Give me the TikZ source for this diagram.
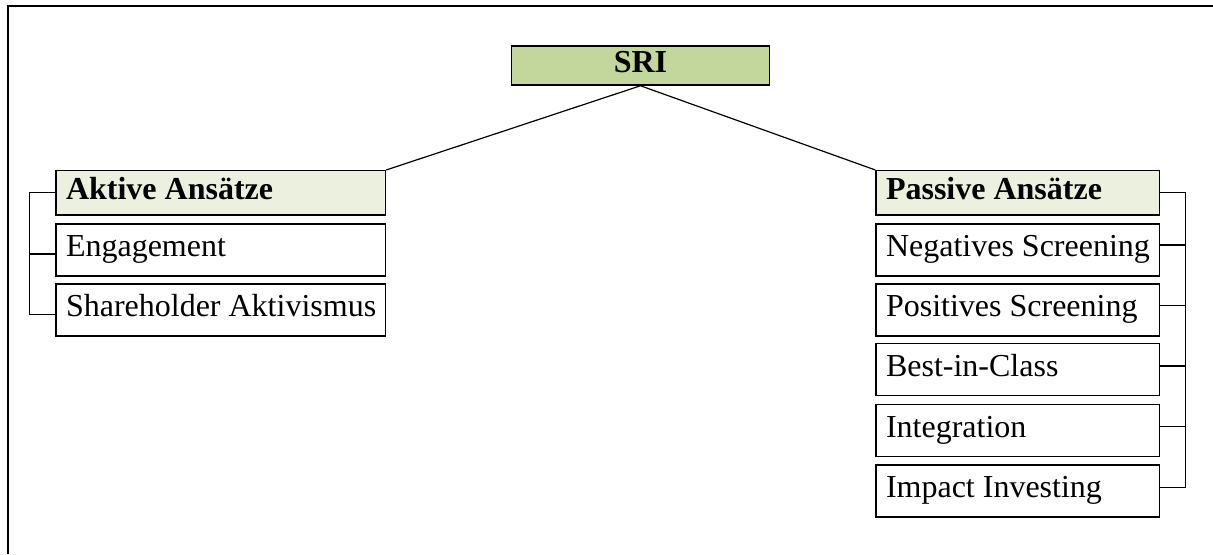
\documentclass[tikz,border=0pt]{standalone}
\usepackage{fontspec}
\setmainfont{Liberation Serif}
\definecolor{srigreen}{HTML}{C3D69B}
\definecolor{palegreen}{HTML}{EBF1DE}
\newcommand\lbt[1]{\makebox[154.75pt][l]{#1}}
\newcommand\rbt[1]{\makebox[131.65pt][l]{#1}}
\begin{document}
\begin{tikzpicture}[x=0.5pt,y=-0.5pt,
  box/.style={draw,line width=0.75pt,inner xsep=5pt,inner ysep=0pt,
    text height=0.66em,text depth=0pt,anchor=center,
    font=\fontsize{16}{19}\selectfont},
  lbox/.style={box,minimum width=164.75pt,minimum height=26pt},
  rbox/.style={box,minimum width=141.65pt,minimum height=26pt},
  head/.style={fill=palegreen,minimum height=22.15pt,font=\fontsize{16}{19}\selectfont\bfseries},
  conn/.style={line width=0.6pt},
  frame/.style={line width=1pt}
]
\useasboundingbox (0,0) rectangle (1213,554);
% outer frame
\coordinate (tl) at (8,6);
\coordinate (tr) at (1213,6);
\coordinate (bl) at (8,554);
\draw[frame] (tr) -- (tl) -- (bl);

% root
\node[box,fill=srigreen,minimum width=128.8pt,minimum height=19.5pt,
  font=\fontsize{16}{19}\selectfont\bfseries] (sri) at (640.5,65.5) {SRI};

% left column
\node[lbox,head] (akt) at (220.75,192.85) {\lbt{Aktive Ansätze}};
\node[lbox] (eng) at (220.75,250) {\lbt{Engagement}};
\node[lbox] (sha) at (220.75,310.2) {\lbt{Shareholder Aktivismus}};

% right column
\node[rbox,head] (pas) at (1017.65,192.85) {\rbt{Passive Ansätze}};
\node[rbox] (neg) at (1017.65,250) {\rbt{Negatives Screening}};
\node[rbox] (pos) at (1017.65,310.2) {\rbt{Positives Screening}};
\node[rbox] (bic) at (1017.65,369.6) {\rbt{Best-in-Class}};
\node[rbox] (int) at (1017.65,430.6) {\rbt{Integration}};
\node[rbox] (imp) at (1017.65,490.8) {\rbt{Impact Investing}};

% tree connectors
\draw[conn] (sri.south) -- (akt.north east);
\draw[conn] (sri.south) -- (pas.north west);

% left bracket
\draw[conn] (akt.west) -- ++(-26,0) |- ([yshift=-2pt]sha.west);
\draw[conn] ([yshift=-2pt]eng.west) -- ++(-26,0);

% right bracket
\draw[conn] (pas.east) -- ++(25.7,0) |- ([yshift=1.6pt]imp.east);
\draw[conn] ([yshift=2.5pt]neg.east) -- ++(25.7,0);
\draw[conn] ([yshift=2.5pt]pos.east) -- ++(25.7,0);
\draw[conn] ([yshift=1.8pt]bic.east) -- ++(25.7,0);
\draw[conn] ([yshift=2.2pt]int.east) -- ++(25.7,0);
\end{tikzpicture}
\end{document}
